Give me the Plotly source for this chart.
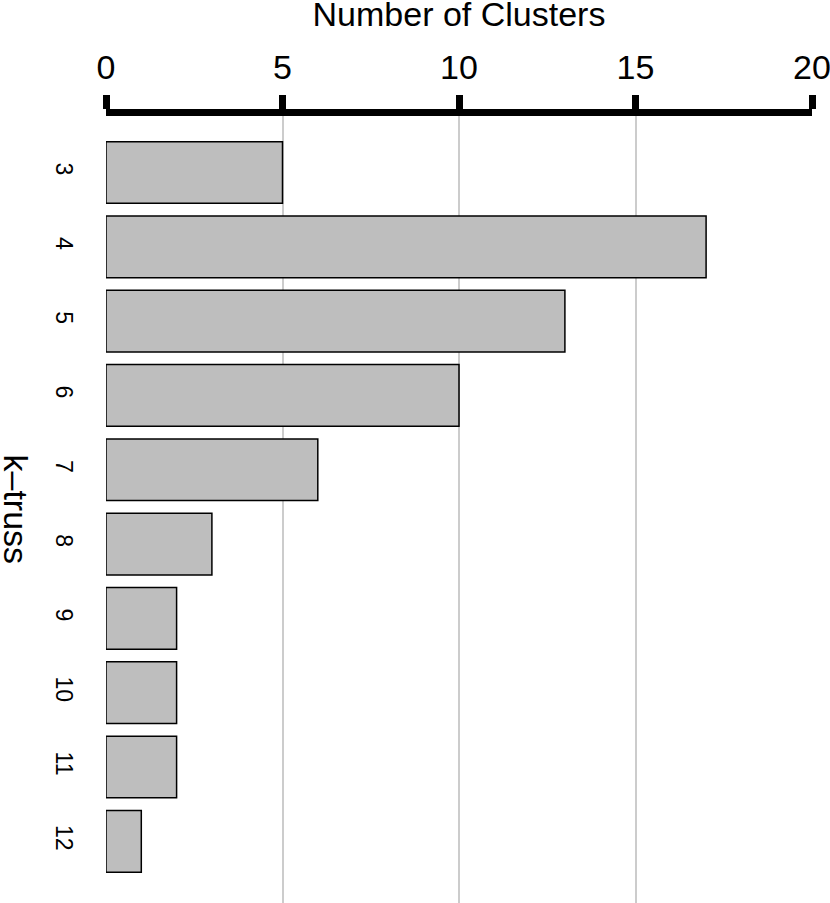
import plotly.graph_objects as go

categories = ["3", "4", "5", "6", "7", "8", "9", "10", "11", "12"]
clusters = [5, 17, 13, 10, 6, 3, 2, 2, 2, 1]
x_ticks = [0, 5, 10, 15, 20]

positions = list(range(len(categories)))

FONT = "Liberation Sans, Arial, Helvetica, sans-serif"

fig = go.Figure()
fig.add_trace(go.Bar(
    x=clusters,
    y=positions,
    orientation="h",
    width=0.83,
    marker=dict(color="#bebebe", line=dict(color="black", width=1.5)),
    showlegend=False,
    hoverinfo="skip",
))

fig.update_layout(
    width=830,
    height=903,
    paper_bgcolor="white",
    plot_bgcolor="white",
    margin=dict(l=106, r=18, t=116, b=0, autoexpand=False),
    font=dict(family=FONT, color="black"),
    title=dict(
        text="Number of Clusters",
        x=0.5, xref="paper", xanchor="center",
        y=1 - 14 / 903, yref="container", yanchor="middle",
        font=dict(size=34, family=FONT, color="black"),
    ),
    xaxis=dict(
        side="top",
        range=[0, 20],
        tickvals=x_ticks,
        ticktext=[str(v) for v in x_ticks],
        showline=True, linewidth=7, linecolor="black",
        ticks="outside", ticklen=14, tickwidth=7, tickcolor="black",
        tickfont=dict(size=34, family=FONT, color="black"),
        showgrid=True, gridcolor="#cccccc", gridwidth=1.5,
        zeroline=False,
        ticklabelstandoff=2,
        ticklabeloverflow="allow",
        automargin=False,
        fixedrange=True,
    ),
    yaxis=dict(
        range=[9.83, -0.76],
        tickvals=positions,
        ticktext=categories,
        tickangle=90,
        tickfont=dict(size=23, family=FONT, color="black"),
        showgrid=False, zeroline=False, showline=False,
        ticks="",
        ticklabelstandoff=26,
        automargin=False,
        fixedrange=True,
    ),
    annotations=[dict(
        text="k–truss",
        xref="paper", yref="paper",
        x=0, y=0.5, xshift=-90,
        xanchor="center", yanchor="middle",
        textangle=90,
        showarrow=False,
        font=dict(size=34, family=FONT, color="black"),
    )],
)

fig.write_html(
    "out.html",
    config={"displayModeBar": False},
    post_script="document.body.style.margin='0';document.body.style.overflow='hidden';",
)
